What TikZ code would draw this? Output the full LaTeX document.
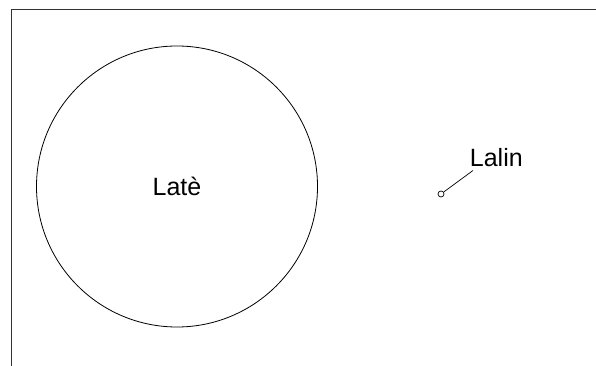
\documentclass[tikz,border=0pt]{standalone}
\usepackage{fontspec}
\setmainfont{Liberation Sans}
\begin{document}
\begin{tikzpicture}[x=1pt,y=1pt,line width=0.8pt,
    lbl/.style={font=\fontsize{25}{30}\selectfont,inner sep=0pt}]
                \useasboundingbox (0,0) rectangle (596,366);
                \draw[line width=1.2pt,black!80] (11.5,0) coordinate (F1) -- (11.5,356.5) coordinate (F2) -- (596,356.5) coordinate (F3);
                \node[circle,draw,minimum size=281pt,inner sep=0pt,lbl] (late) at (177,179.5) {Lat\`e};
                \node[circle,draw,minimum size=6pt,inner sep=0pt,line width=0.7pt] (pt) at (441,172) {};
                \node[lbl,anchor=base west] (lalin) at (469.5,199) {Lalin};
                \draw[line width=0.7pt] (pt) -- ([xshift=3.5pt,yshift=-3.5pt]lalin.base west);
            \end{tikzpicture}
\end{document}
